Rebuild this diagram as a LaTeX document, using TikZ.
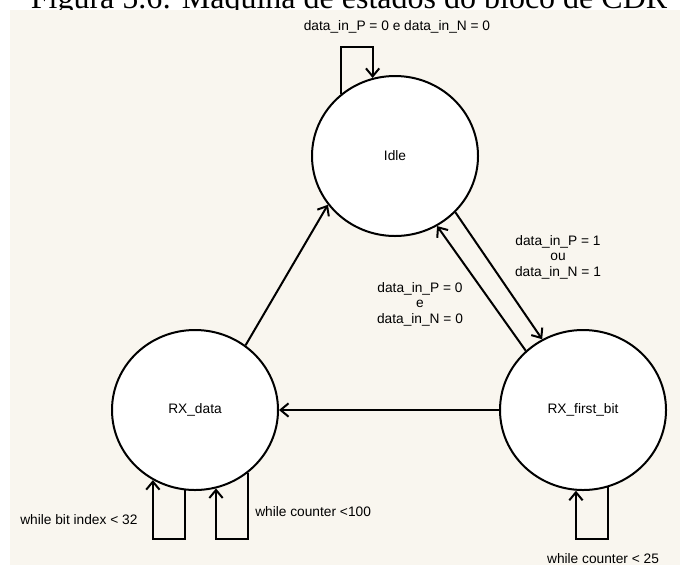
\documentclass[tikz,border=0pt]{standalone}
\usepackage{fontspec}
\setmainfont{Liberation Sans}
\newfontfamily\capfont{Liberation Serif}
\usetikzlibrary{shapes.geometric,arrows.meta}
\definecolor{panel}{RGB}{249,246,239}
\begin{document}
\begin{tikzpicture}[x=0.75pt,y=-0.75pt,
  state/.style={ellipse,draw,line width=1.5pt,fill=white,minimum width=124.5pt,minimum height=120pt,inner sep=0pt,font=\fontsize{10.3}{12}\selectfont},
  arr/.style={line width=1.5pt,-{Straight Barb[length=6pt,width=10pt]}},
  lbl/.style={font=\fontsize{10.3}{11.6}\selectfont,align=center,inner sep=0pt},
]
\useasboundingbox (0,0) rectangle (680,565);
\clip (0,0) rectangle (680,565);
\fill[white] (0,0) rectangle (680,565);
\node[font=\capfont\fontsize{24}{28}\selectfont,anchor=base,inner sep=0pt] (cap) at (349,8) {Figura 5.6: Máquina de estados do bloco de CDR};
\fill[panel] (10,10) rectangle (680,565);

% states
\node[state] (Idle) at (395,156) {Idle};
\node[state] (RXd) at (195,410) {RX\_data};
\node[state] (RXf) at (583,410) {RX\_first\_bit};

% transitions
\draw[arr] (RXd.52) -- (Idle.216);
\draw[arr] (Idle.-43) -- (RXf.120.5);
\draw[arr] (RXf.134) -- (Idle.-59.4);
\draw[arr] (RXf.180) -- (RXd.0);

% self loops
\coordinate (idleTop) at (357,47);
\draw[arr] (Idle.131) |- (idleTop) -| (Idle.106);
\coordinate (rxdA) at (170,539);
\draw[arr] (RXd.263.5) |- (rxdA) -| (RXd.239.5);
\coordinate (rxdB) at (232,539);
\draw[arr] (RXd.310.7) |- (rxdB) -| (RXd.285.9);
\coordinate (rxfA) at (592,539);
\draw[arr] (RXf.288.1) |- (rxfA) -| (RXf.265.7);

% labels
\node[lbl] (l1) at (397,27) {data\_in\_P = 0 e data\_in\_N = 0};
\node[lbl] (l2) at (558,257) {data\_in\_P = 1\\ou\\data\_in\_N = 1};
\node[lbl] (l3) at (420,304) {data\_in\_P = 0\\e\\data\_in\_N = 0};
\node[lbl,anchor=west] (l4) at (20,520) {while bit index < 32};
\node[lbl,anchor=west] (l5) at (255,512) {while counter <100};
\node[lbl] (l6) at (603,559) {while counter < 25};
\end{tikzpicture}
\end{document}
